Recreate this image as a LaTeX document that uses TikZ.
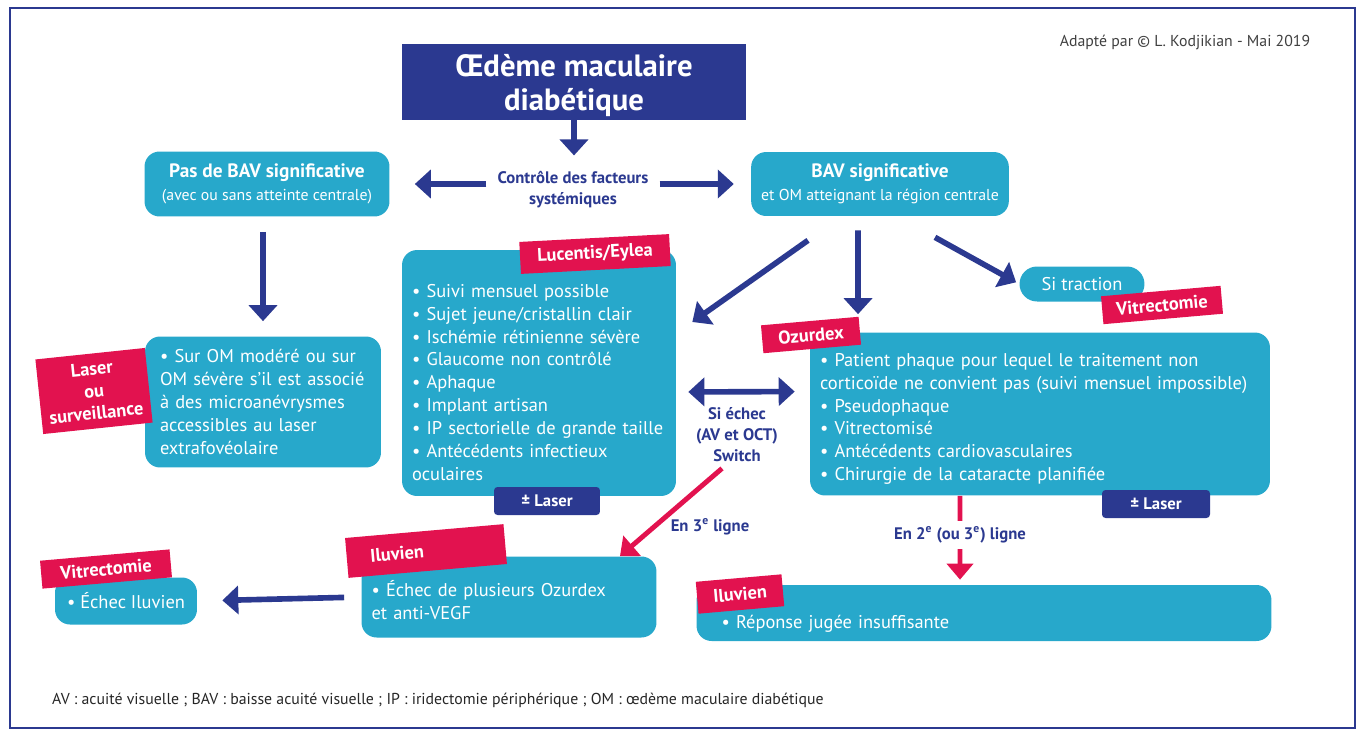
\documentclass[tikz,border=0pt]{standalone}
\usepackage{fontspec}
\setmainfont{PT Sans}
\usepackage{xcolor}
\usepackage{tikz}
\usetikzlibrary{arrows.meta,calc}
\definecolor{navy}{HTML}{2B3990}
\definecolor{tealb}{HTML}{27A8CB}
\definecolor{crim}{HTML}{E2124F}
\tikzset{
  tealbox/.style={fill=tealb,text=white,rounded corners=0.3cm,align=left,inner xsep=0.2cm,inner ysep=0.15cm,font=\fontsize{10.5}{13}\selectfont},
  redtag/.style={fill=crim,text=white,align=center,inner sep=2pt,font=\bfseries\fontsize{10.5}{12.5}\selectfont},
  navytag/.style={fill=navy,text=white,rounded corners=2pt,inner sep=2pt,font=\bfseries\fontsize{9.5}{11}\selectfont},
  lbl/.style={text=navy,align=center,font=\bfseries\fontsize{9.5}{12}\selectfont},
  bluarrow/.style={draw=navy,line width=3.2pt,-{Triangle[length=3.2mm,width=5.6mm]}},
  redarrow/.style={draw=crim,line width=2.8pt,-{Triangle[length=3.2mm,width=5.2mm]}}
}

\begin{document}
\begin{tikzpicture}[x=0.02cm,y=-0.02cm]
\useasboundingbox (0,0) rectangle (1363,734);
% ---------- frame and header ----------
\draw[navy,line width=1.2pt] (10,8) rectangle (1355,728);
\node[text=black!75,font=\fontsize{9}{10}\selectfont] (adapt) at (1185,42) {Adapté par © L. Kodjikian - Mai 2019};
\node[fill=navy,text=white,align=center,inner ysep=0pt,minimum width=6.88cm,minimum height=1.52cm,font=\bfseries\fontsize{17.5}{19.5}\selectfont] (title) at (574,82) {\rule{0pt}{17pt}Œdème maculaire\\diabétique};
\node[lbl] (ctrl) at (573,190) {Contrôle des facteurs\\systémiques};
% ---------- teal boxes ----------
\node[tealbox,align=center,minimum width=4.9cm,minimum height=1.3cm] (nobav) at (267,184)
  {{\bfseries\fontsize{11}{13}\selectfont Pas de BAV significative}\\{\fontsize{9}{11}\selectfont (avec ou sans atteinte centrale)}};
\node[tealbox,align=center,minimum width=5.12cm,minimum height=1.28cm] (bav) at (880,184)
  {{\bfseries\fontsize{11}{13}\selectfont BAV significative}\\{\fontsize{9}{11}\selectfont et OM atteignant la région centrale}};
\node[tealbox,inner xsep=0.3cm,text width=4.12cm,minimum height=2.62cm] (laserbox) at (263,402)
  {• Sur OM modéré ou sur\\OM sévère s'il est associé\\à des microanévrysmes\\accessibles au laser\\extrafovéolaire};
\node[tealbox,text width=5.08cm,minimum height=4.92cm] (lucbox) at (539,373)
  {\rule{0pt}{18pt}• Suivi mensuel possible\\• Sujet jeune/cristallin clair\\• Ischémie rétinienne sévère\\• Glaucome non contrôlé\\• Aphaque\\• Implant artisan\\• IP sectorielle de grande taille\\• Antécédents infectieux\\oculaires};
\node[tealbox,text width=8.8cm,minimum height=3.26cm] (ozubox) at (1040,414)
  {\rule{0pt}{13pt}• Patient phaque pour lequel le traitement non\\corticoïde ne convient pas (suivi mensuel impossible)\\• Pseudophaque\\• Vitrectomisé\\• Antécédents cardiovasculaires\\• Chirurgie de la cataracte planifiée};
\node[tealbox,align=center,rounded corners=0.35cm,minimum width=2.5cm,minimum height=0.7cm] (traction) at (1082,284) {Si traction};
\node[tealbox,text width=5.5cm,minimum height=1.62cm] (ilumid) at (509,597)
  {\rule{0pt}{13pt}• Échec de plusieurs Ozurdex\\et anti-VEGF};
\node[tealbox,text width=11.1cm,minimum height=1.12cm] (ilurt) at (984,613)
  {\rule{0pt}{20pt}\hspace*{0.3cm}• Réponse jugée insuffisante};
\node[tealbox,align=center,minimum width=2.84cm,minimum height=0.94cm] (echec) at (126,601) {• Échec Iluvien};
% ---------- tags ----------
\node[redtag,rotate=6,minimum width=2.2cm,minimum height=1.5cm] (lasertag) at (94,391) {Laser\\ou\\surveillance};
\node[redtag,rotate=3,minimum width=3cm,minimum height=0.64cm] (lucentag) at (595,254) {Lucentis/Eylea};
\node[redtag,rotate=5,minimum width=2.4cm,minimum height=0.56cm] (vittag) at (1162,305) {Vitrectomie};
\node[redtag,rotate=5,minimum width=1.96cm,minimum height=0.56cm] (ozutag) at (811,335) {Ozurdex};
\node[redtag,rotate=5,align=left,text width=3.04cm,minimum height=0.8cm] (iluvtag) at (426,551) {\hspace*{0.4cm}Iluvien};
\node[redtag,rotate=5,minimum width=2.6cm,minimum height=0.56cm] (vittagb) at (106,569) {Vitrectomie};
\node[redtag,rotate=5,minimum width=1.72cm,minimum height=0.64cm] (iluvtagb) at (740,594) {Iluvien};
\node[navytag,minimum width=2.12cm,minimum height=0.56cm] (lucplus) at (547,501) {± Laser};
\node[navytag,minimum width=2.16cm,minimum height=0.56cm] (ozuplus) at (1156,504) {± Laser};
% ---------- labels ----------
\node[lbl] (switch) at (737,435) {Si échec\\(AV et OCT)\\Switch};
\node[lbl] (third) at (710,527) {En 3\textsuperscript{e} ligne};
% ---------- arrows ----------
\draw[bluarrow,shorten >=0.2cm] (title) -- (title |- ctrl.north);
\draw[bluarrow,shorten <=0.1cm,shorten >=0.5cm] (ctrl.west |- nobav.east) -- (nobav.east);
\draw[bluarrow,shorten <=0.1cm,shorten >=0.34cm] (ctrl.east |- bav.west) -- (bav.west);
\draw[bluarrow,shorten <=0.3cm,shorten >=0.3cm] (laserbox.north |- nobav.south) -- (laserbox.north);
\draw[bluarrow] ([xshift=-1.44cm,yshift=-0.48cm]bav.south) -- ([xshift=0.32cm,yshift=1.02cm]lucbox.east);
\draw[bluarrow,shorten <=0.28cm,shorten >=0.36cm] ([xshift=-0.44cm]bav.south) -- ([xshift=-3.64cm]ozubox.north);
\draw[bluarrow,shorten >=2pt] ([xshift=1.1cm,yshift=-0.42cm]bav.south) -- (traction.west);
\draw[bluarrow,{Triangle[length=3.2mm,width=5.6mm]}-{Triangle[length=3.2mm,width=5.6mm]},shorten <=0.24cm,shorten >=0.3cm] ([yshift=-0.38cm]lucbox.east) -- ([yshift=0.45cm]ozubox.west);
\draw[bluarrow,shorten <=0.34cm,shorten >=0.5cm] (ilumid.west) -- (echec.east);
\draw[redarrow] ([xshift=-0.3cm]switch.south) -- ([xshift=2.22cm]ilumid.north);
\draw[redarrow,shorten >=0.1cm] ([xshift=-1.6cm]ozubox.south) -- ([xshift=-0.48cm]ilurt.north);
\node[lbl,fill=white] (second) at (960,535) {En 2\textsuperscript{e} (ou 3\textsuperscript{e}) ligne};
% ---------- footnote ----------
\node[anchor=west,text=black!85,font=\fontsize{9}{11}\selectfont] (foot) at (46,700) {AV : acuité visuelle ; BAV : baisse acuité visuelle ; IP : iridectomie périphérique ; OM : œdème maculaire diabétique};
\end{tikzpicture}
\end{document}
